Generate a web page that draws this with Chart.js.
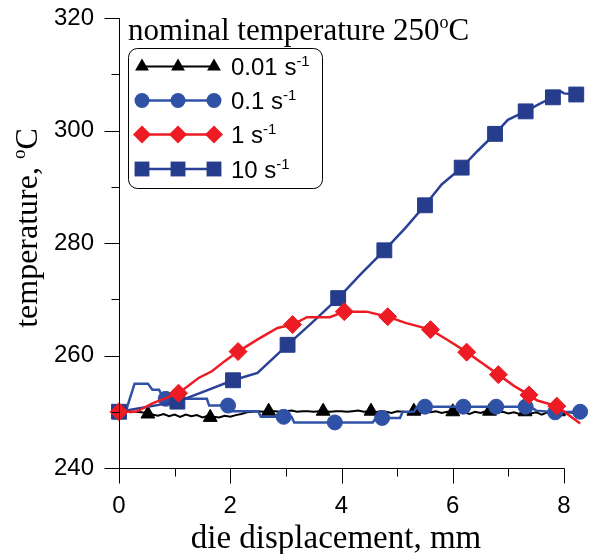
<!DOCTYPE html>
<html>
<head>
<meta charset="utf-8">
<script src="https://cdn.jsdelivr.net/npm/chart.js@4.4.1/dist/chart.umd.min.js"></script>
<style>
  html, body { margin: 0; padding: 0; background: #fff; }
</style>
</head>
<body>
<canvas id="chart" width="595" height="554"></canvas>
<script>
const xTickValues = [0, 2, 4, 6, 8];
const xMinorTicks = [1, 3, 5, 7];
const yTickValues = [240, 260, 280, 300, 320];
const yMinorTicks = [250, 270, 290, 310];
const rateLabels = ["0.01 s", "0.1 s", "1 s", "10 s"];
const rateSup = "-1";
const legendTitle = "nominal temperature 250";
const xAxisTitle = "die displacement, mm";
const yAxisTitle = "temperature, ";
const degSup = "o";
const degUnit = "C";

// 0.01 s-1 (noisy thermocouple trace)
const rate001X = [0, 0.1, 0.2, 0.3, 0.4, 0.5, 0.6, 0.7, 0.8, 0.9, 1.0, 1.1, 1.2, 1.3, 1.4, 1.5, 1.6, 1.7, 1.8, 1.9,
  2.0, 2.1, 2.2, 2.3, 2.4, 2.5, 2.6, 2.7, 2.8, 2.9, 3.0, 3.1, 3.2, 3.3, 3.4, 3.5, 3.6, 3.7, 3.8, 3.9,
  4.0, 4.1, 4.2, 4.3, 4.4, 4.5, 4.6, 4.7, 4.8, 4.9, 5.0, 5.1, 5.2, 5.3, 5.4, 5.5, 5.6, 5.7, 5.8, 5.9,
  6.0, 6.1, 6.2, 6.3, 6.4, 6.5, 6.6, 6.7, 6.8, 6.9, 7.0, 7.1, 7.2, 7.3, 7.4, 7.5, 7.6, 7.7, 7.8, 7.9,
  8.0, 8.1, 8.2, 8.3];
const rate001Y = [250.0, 250.1, 249.9, 250.0, 249.9, 249.8, 249.5, 249.3, 249.6, 249.2, 249.5, 249.1, 249.5, 249.2, 249.4, 249.0, 249.3, 249.1, 249.0, 249.3,
  249.1, 249.4, 249.6, 249.9, 250.0, 250.1, 250.0, 250.1, 250.1, 250.0, 250.1, 250.2, 250.0, 250.1, 250.1, 250.0, 250.1, 250.1, 250.0, 250.1,
  250.1, 250.0, 250.1, 250.2, 250.0, 250.1, 249.9, 250.1, 250.0, 249.8, 250.1, 250.0, 249.9, 250.1, 249.7, 250.0, 249.9, 250.1, 249.8, 250.0,
  249.7, 250.0, 249.9, 249.6, 250.0, 249.8, 250.1, 249.6, 249.9, 250.0, 249.7, 249.9, 249.6, 250.0, 249.7, 249.9, 249.5, 249.9, 249.7, 250.0,
  249.6, 249.9, 249.7, 249.8];
const rate001MarkX = [0, 0.52, 1.64, 2.69, 3.67, 4.53, 5.3, 6.0, 6.66, 7.3, 7.9];
const rate001MarkY = [250.0, 249.6, 249.0, 250.1, 250.1, 250.1, 250.1, 250.0, 250.1, 250.0, 250.0];

// 0.1 s-1
const rate01X = [0, 0.12, 0.28, 0.52, 0.6, 0.72, 0.8, 1.58, 1.62, 2.0, 2.04, 2.5, 2.55, 3.1, 3.15, 4.56, 4.62, 5.05, 5.1, 5.3, 5.36, 7.4, 7.5, 7.84, 8.29];
const rate01Y = [250.0, 250.0, 255.0, 255.0, 253.9, 253.9, 252.3, 252.3, 251.1, 251.1, 250.1, 250.1, 249.1, 249.1, 248.1, 248.1, 248.9, 248.9, 250.0, 250.0, 250.9, 250.9, 250.2, 249.9, 250.0];
const rate01MarkX = [0, 0.84, 1.96, 2.96, 3.88, 4.73, 5.5, 6.19, 6.78, 7.31, 7.84, 8.29];
const rate01MarkY = [250.0, 252.3, 251.1, 249.1, 248.1, 248.9, 250.9, 250.9, 250.9, 250.9, 249.9, 250.0];

// 1 s-1
const rate1X = [0, 0.31, 0.6, 1.07, 1.43, 1.67, 1.9, 2.14, 2.5, 2.85, 3.12, 3.38, 3.79, 4.05, 4.45, 4.83, 5.15, 5.6, 5.9, 6.25, 6.55, 6.82, 7.1, 7.37, 7.52, 7.87, 8.29];
const rate1Y = [250.0, 250.0, 251.5, 253.3, 256.0, 257.2, 259.0, 260.7, 262.9, 264.9, 265.5, 266.8, 266.8, 267.8, 267.8, 266.9, 265.8, 264.6, 262.8, 260.6, 258.5, 256.6, 254.6, 253.0, 252.0, 251.0, 247.9];
const rate1MarkX = [0, 1.07, 2.14, 3.12, 4.05, 4.83, 5.6, 6.25, 6.82, 7.37, 7.87];
const rate1MarkY = [250.0, 253.3, 260.7, 265.5, 267.8, 266.9, 264.6, 260.6, 256.6, 253.0, 251.0];

// 10 s-1
const rate10X = [0, 1.05, 1.5, 2.05, 2.49, 3.03, 3.5, 3.94, 4.35, 4.77, 5.15, 5.5, 5.8, 6.16, 6.45, 6.76, 6.99, 7.31, 7.55, 7.8, 7.93, 8.0, 8.22];
const rate10Y = [250.0, 251.8, 253.5, 255.6, 256.9, 261.9, 266.1, 270.2, 274.5, 278.7, 282.7, 286.7, 290.4, 293.4, 296.4, 299.4, 301.9, 303.4, 304.7, 305.9, 307.0, 306.6, 306.4];
const rate10MarkX = [0, 1.05, 2.05, 3.03, 3.94, 4.77, 5.5, 6.16, 6.76, 7.31, 7.8, 8.22];
const rate10MarkY = [250.0, 251.8, 255.6, 261.9, 270.2, 278.7, 286.7, 293.4, 299.4, 303.4, 305.9, 306.4];

const SANS = '"Liberation Sans", Arial, sans-serif';
const SERIF = '"Liberation Serif", "Times New Roman", serif';

const styles = [
  { color: "#000000", lineColor: "#000000", shape: "triangle", radius: 8, width: 2 },
  { color: "#3052A6", lineColor: "#3052A6", shape: "circle", radius: 7.5, width: 2.5 },
  { color: "#ED1C24", lineColor: "#ED1C24", shape: "rectRot", radius: 9, width: 2.5 },
  { color: "#263C8C", lineColor: "#2B4196", shape: "rect", radius: 10.5, width: 2.5 }
];

function toPoints(xs, ys) {
  return xs.map((x, i) => ({ x: x, y: ys[i] }));
}

function lineSet(xs, ys, style, order) {
  return {
    data: toPoints(xs, ys),
    borderColor: style.lineColor,
    borderWidth: style.width,
    pointRadius: 0,
    tension: 0,
    fill: false,
    clip: false,
    order: order
  };
}

function markerSet(xs, ys, style, order) {
  return {
    data: toPoints(xs, ys),
    showLine: false,
    pointStyle: style.shape,
    pointRadius: style.radius,
    pointBackgroundColor: style.color,
    pointBorderColor: style.color,
    pointBorderWidth: 1,
    clip: false,
    order: order
  };
}

function drawShape(ctx, shape, x, y, r) {
  ctx.beginPath();
  if (shape === "circle") {
    ctx.arc(x, y, r, 0, Math.PI * 2);
  } else if (shape === "triangle") {
    ctx.moveTo(x, y - r);
    ctx.lineTo(x + 0.866 * r, y + 0.5 * r);
    ctx.lineTo(x - 0.866 * r, y + 0.5 * r);
  } else if (shape === "rectRot") {
    ctx.moveTo(x - r, y);
    ctx.lineTo(x, y - r);
    ctx.lineTo(x + r, y);
    ctx.lineTo(x, y + r);
  } else {
    const s = r * Math.SQRT1_2;
    ctx.rect(x - s, y - s, 2 * s, 2 * s);
  }
  ctx.closePath();
  ctx.fill();
}

// draws text pieces one after another; returns the total width
function drawParts(ctx, parts, x, y, measureOnly) {
  let cx = x;
  parts.forEach(p => {
    ctx.font = p.font;
    if (!measureOnly) ctx.fillText(p.text, cx, y - (p.rise || 0));
    cx += ctx.measureText(p.text).width;
  });
  return cx - x;
}

function fixedTicks(majors, minors) {
  return scale => {
    scale.ticks = majors.concat(minors).sort((a, b) => a - b).map(v => ({ value: v }));
  };
}

const decorPlugin = {
  id: "decor",
  afterDraw(chart) {
    const ctx = chart.ctx;
    const area = chart.chartArea;
    const xs = chart.scales.x;
    const ys = chart.scales.y;

    ctx.save();
    ctx.strokeStyle = "#000";
    ctx.lineWidth = 1;
    ctx.beginPath();
    const ax = Math.round(area.left) + 0.5;
    const ay = Math.round(area.bottom) + 0.5;
    const xEnd = Math.round(xs.getPixelForValue(xTickValues[xTickValues.length - 1])) + 0.5;
    ctx.moveTo(ax, area.top);
    ctx.lineTo(ax, ay);
    ctx.moveTo(ax, ay);
    ctx.lineTo(xEnd, ay);
    xs.ticks.forEach(t => {
      const px = Math.round(xs.getPixelForValue(t.value)) + 0.5;
      const len = xTickValues.includes(t.value) ? 15 : 8;
      ctx.moveTo(px, ay);
      ctx.lineTo(px, ay + len);
    });
    ys.ticks.forEach(t => {
      const py = Math.round(ys.getPixelForValue(t.value)) + 0.5;
      const len = yTickValues.includes(t.value) ? 15 : 8;
      ctx.moveTo(ax, py);
      ctx.lineTo(ax - len, py);
    });
    ctx.stroke();

    ctx.fillStyle = "#000";
    ctx.textBaseline = "alphabetic";
    ctx.textAlign = "left";

    // x axis title
    ctx.font = "33px " + SERIF;
    const xw = ctx.measureText(xAxisTitle).width;
    ctx.fillText(xAxisTitle, 336 - xw / 2, 548);

    // y axis title
    const yParts = [
      { text: yAxisTitle, font: "32px " + SERIF },
      { text: degSup, font: "19px " + SERIF, rise: 12 },
      { text: degUnit, font: "32px " + SERIF }
    ];
    ctx.save();
    ctx.translate(37, 228);
    ctx.rotate(-Math.PI / 2);
    const yw = drawParts(ctx, yParts, 0, 0, true);
    drawParts(ctx, yParts, -yw / 2, 0);
    ctx.restore();

    // legend title
    drawParts(ctx, [
      { text: legendTitle, font: "31px " + SERIF },
      { text: degSup, font: "18px " + SERIF, rise: 12 },
      { text: degUnit, font: "31px " + SERIF }
    ], 128, 40);

    // legend box
    const bx = 128.5, by = 48.5, bw = 194, bh = 140, br = 9;
    ctx.beginPath();
    ctx.moveTo(bx + br, by);
    ctx.arcTo(bx + bw, by, bx + bw, by + bh, br);
    ctx.arcTo(bx + bw, by + bh, bx, by + bh, br);
    ctx.arcTo(bx, by + bh, bx, by, br);
    ctx.arcTo(bx, by, bx + bw, by, br);
    ctx.closePath();
    ctx.fillStyle = "#fff";
    ctx.fill();
    ctx.strokeStyle = "#000";
    ctx.lineWidth = 1;
    ctx.stroke();

    const rows = [66.5, 100.5, 134.5, 169];
    const marks = [142, 178, 214];
    rateLabels.forEach((label, i) => {
      const st = styles[i];
      const ry = rows[i];
      ctx.strokeStyle = st.lineColor;
      ctx.lineWidth = st.width;
      ctx.beginPath();
      ctx.moveTo(marks[0], ry);
      ctx.lineTo(marks[2], ry);
      ctx.stroke();
      ctx.fillStyle = st.color;
      marks.forEach(mx => drawShape(ctx, st.shape, mx, ry, st.radius));
      ctx.fillStyle = "#000";
      drawParts(ctx, [
        { text: label, font: "24px " + SANS },
        { text: rateSup, font: "15px " + SANS, rise: 9 }
      ], 231, ry + 8.5);
    });
    ctx.restore();
  }
};

new Chart(document.getElementById("chart"), {
  type: "line",
  data: {
    datasets: [
      markerSet(rate1MarkX, rate1MarkY, styles[2], 0),
      lineSet(rate1X, rate1Y, styles[2], 1),
      markerSet(rate10MarkX, rate10MarkY, styles[3], 2),
      lineSet(rate10X, rate10Y, styles[3], 3),
      markerSet(rate01MarkX, rate01MarkY, styles[1], 4),
      lineSet(rate01X, rate01Y, styles[1], 5),
      markerSet(rate001MarkX, rate001MarkY, styles[0], 6),
      lineSet(rate001X, rate001Y, styles[0], 7)
    ]
  },
  options: {
    responsive: false,
    animation: false,
    layout: { padding: { top: 18, right: 5, bottom: 0, left: 0 } },
    plugins: {
      legend: { display: false },
      tooltip: { enabled: false }
    },
    scales: {
      x: {
        type: "linear",
        min: 0,
        max: 8.35,
        grid: { display: false, drawTicks: false },
        border: { display: false },
        afterBuildTicks: fixedTicks(xTickValues, xMinorTicks),
        ticks: {
          padding: 24,
          color: "#000",
          font: { family: SANS, size: 24 },
          maxRotation: 0,
          autoSkip: false,
          callback: value => xTickValues.includes(value) ? String(value) : ""
        },
        afterFit: scale => {
          scale.height = 86;
          scale.paddingLeft = 0;
          scale.paddingRight = 0;
        }
      },
      y: {
        type: "linear",
        min: 240,
        max: 320,
        grid: { display: false, drawTicks: false },
        border: { display: false },
        afterBuildTicks: fixedTicks(yTickValues, yMinorTicks),
        ticks: {
          padding: 25,
          color: "#000",
          font: { family: SANS, size: 24 },
          autoSkip: false,
          callback: value => yTickValues.includes(value) ? String(value) : ""
        },
        afterFit: scale => {
          scale.width = 119;
          scale.paddingTop = 0;
          scale.paddingBottom = 0;
        }
      }
    }
  },
  plugins: [decorPlugin]
});
</script>
</body>
</html>
